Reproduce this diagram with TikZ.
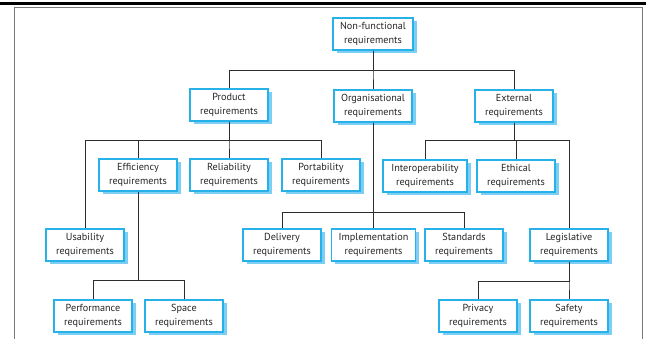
\documentclass[tikz,border=0pt]{standalone}
\usepackage{fontspec}
\setmainfont{PT Sans}
\usetikzlibrary{shadows}
\definecolor{boxcyan}{RGB}{38,178,232}
\definecolor{shadowblue}{RGB}{125,206,245}
\definecolor{linegray}{RGB}{45,45,45}
\definecolor{framegray}{RGB}{120,120,120}
\tikzset{
  req/.style={draw=boxcyan, line width=1.1pt, fill=white, minimum width=78pt, minimum height=32pt,
    inner sep=0pt, align=center, font=\fontsize{10.2}{14.5}\selectfont, text=black!85,
    general shadow={fill=shadowblue, shadow xshift=3.5pt, shadow yshift=-3.5pt}},
  wide/.style={minimum width=84pt},
  conn/.style={draw=linegray, line width=0.8pt}
}
\begin{document}
\begin{tikzpicture}[x=1pt,y=-1pt]
\useasboundingbox (0,0) rectangle (646,339);
\fill[black] (0,2) rectangle (646,5);
\draw[framegray, line width=1.3pt] (14.5,342) -- (14.5,7.5) -- (642.7,7.5) -- (642.7,342);

\node[req, minimum width=80pt] (nf) at (373,34) {Non-functional\\requirements};
\node[req] (prod) at (229,105) {Product\\requirements};
\node[req] (org) at (373,106) {Organisational\\requirements};
\node[req] (ext) at (514,106) {External\\requirements};
\node[req] (eff) at (138,175) {Efficiency\\requirements};
\node[req] (rel) at (229,175) {Reliability\\requirements};
\node[req] (port) at (321,175) {Portability\\requirements};
\node[req, wide] (inter) at (425,176) {Interoperability\\requirements};
\node[req] (eth) at (516,176) {Ethical\\requirements};
\node[req] (usab) at (85,245) {Usability\\requirements};
\node[req] (deliv) at (282,245) {Delivery\\requirements};
\node[req, wide] (impl) at (373.5,245) {Implementation\\requirements};
\node[req] (stand) at (464,245) {Standards\\requirements};
\node[req] (legis) at (569,245) {Legislative\\requirements};
\node[req] (perf) at (93,316) {Performance\\requirements};
\node[req] (space) at (184,316) {Space\\requirements};
\node[req] (priv) at (478,316) {Privacy\\requirements};
\node[req] (safe) at (569,316) {Safety\\requirements};

\foreach \c in {prod,org,ext} \draw[conn] (nf.south) -- ++(0,20) -| (\c.north);
\foreach \c in {usab,eff,rel,port} \draw[conn] (prod.south) -- ++(0,19) -| (\c.north);
\foreach \c in {perf,space} \draw[conn] (eff.south) -- ++(0,89) -| (\c.north);
\foreach \c in {deliv,impl,stand} \draw[conn] (org.south) -- ++(0,90) -| (\c.north);
\foreach \c in {inter,eth,legis} \draw[conn] (ext.south) -- ++(0,18) -| (\c.north);
\foreach \c in {priv,safe} \draw[conn] (legis.south) -- ++(0,20) -| (\c.north);
\end{tikzpicture}
\end{document}
